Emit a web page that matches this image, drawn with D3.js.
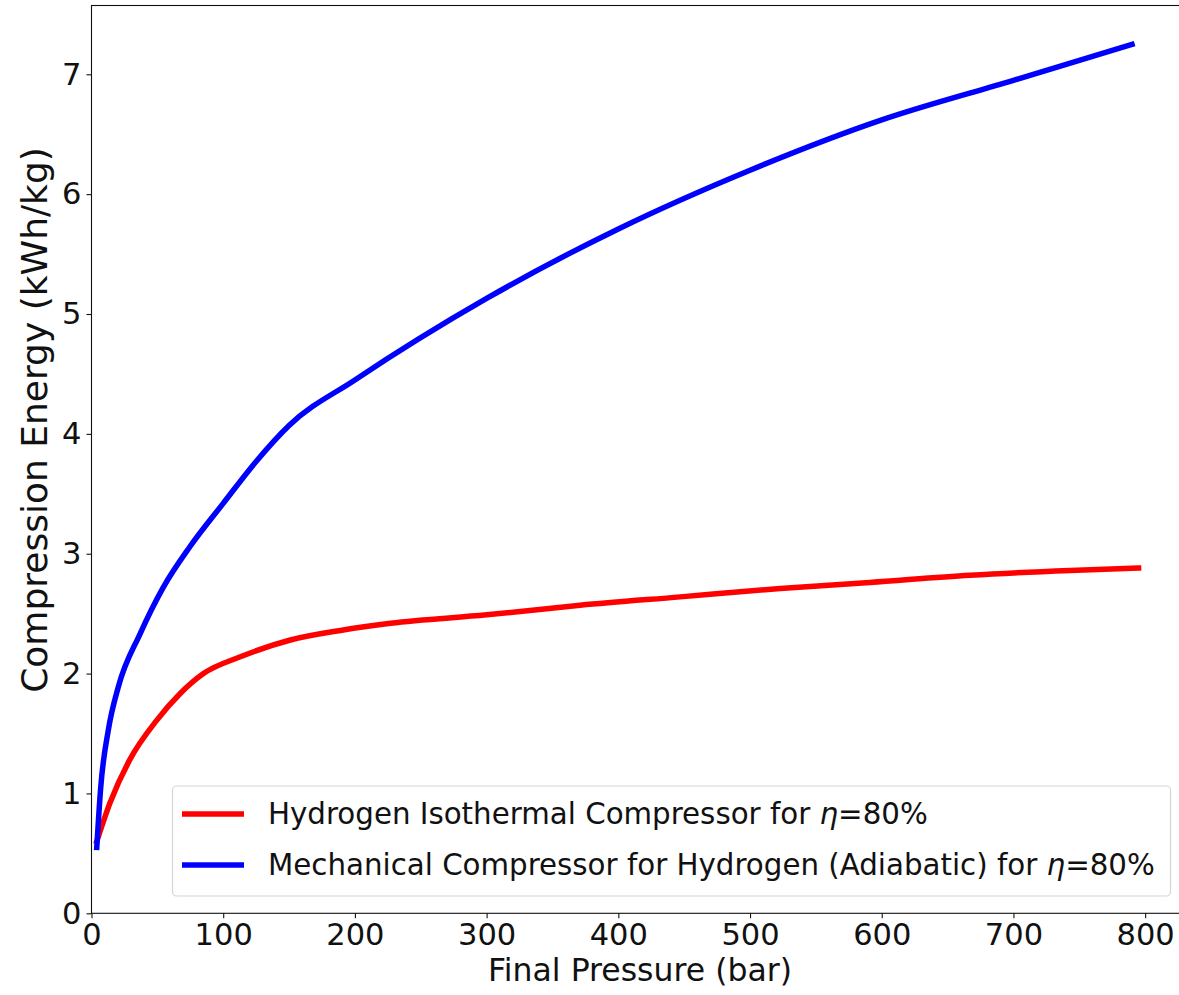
<!DOCTYPE html>
<html lang="en">
    <head>
        <meta charset="utf-8">
        <title>Compression Energy</title>
        <script type="text/javascript" src="https://d3js.org/d3.v7.min.js"></script>
        <style type="text/css">
            body { margin: 0; background: #fff; overflow: hidden; }
            text { font-family: "DejaVu Sans", sans-serif; fill: #111; }
        </style>
    </head>
    <body>
        <script type="text/javascript">

    // data
    var isoPressure = [4, 14, 29, 49.5, 67, 85, 113, 151, 189, 227, 300, 371, 447, 523, 591, 667, 743, 795];
    var isoEnergy   = [0.60, 0.92, 1.28, 1.61, 1.83, 2.00, 2.14, 2.28, 2.36, 2.42, 2.49, 2.57, 2.64, 2.71, 2.76, 2.82, 2.86, 2.88];

    var mechPressure = [4, 7, 12.8, 20.4, 36.8, 54.5, 74.8, 100, 125, 150, 200, 300, 400, 500, 600, 700, 790];
    var mechEnergy   = [0.55, 1.05, 1.53, 1.89, 2.33, 2.72, 3.06, 3.42, 3.77, 4.07, 4.45, 5.13, 5.71, 6.20, 6.62, 6.95, 7.25];

    var xTicks = [0, 100, 200, 300, 400, 500, 600, 700, 800];
    var yTicks = [0, 1, 2, 3, 4, 5, 6, 7];

    var legendLabels = [
        ["Hydrogen Isothermal Compressor for ", "=80%"],
        ["Mechanical Compressor for Hydrogen (Adiabatic) for ", "=80%"]
    ];
    var colors = ["#ff0000", "#0000ff"];

    var w = 1179;
    var h = 995;
    // plot box (right edge falls just outside the picture)
    var padL = 91.5, padR = 1184, padT = 5.5, padB = 913.3;

    var xScale = d3.scaleLinear().domain([0, 829.5]).range([padL, padR]);
    var yScale = d3.scaleLinear().domain([0, 7.574]).range([padB, padT]);

    var svg = d3.select("body")
                .append("svg")
                .attr("width", w)
                .attr("height", h);

    var series = [
        d3.zip(isoPressure, isoEnergy),
        d3.zip(mechPressure, mechEnergy)
    ];

    var line = d3.line()
        .x(function(d) { return xScale(d[0]); })
        .y(function(d) { return yScale(d[1]); })
        .curve(d3.curveMonotoneX);

    svg.selectAll("path.series")
        .data(series)
        .enter()
        .append("path")
        .attr("class", "series")
        .attr("d", line)
        .attr("fill", "none")
        .attr("stroke", function(d, i) { return colors[i]; })
        .attr("stroke-width", 5.5)
        .attr("stroke-linecap", "square")
        .attr("stroke-linejoin", "round");

    // axes
    var xAxis = d3.axisBottom(xScale).tickValues(xTicks).tickSize(5).tickPadding(5);
    var yAxis = d3.axisLeft(yScale).tickValues(yTicks).tickSize(5).tickPadding(5);

    var gx = svg.append("g")
        .attr("transform", "translate(0," + padB + ")")
        .call(xAxis);
    var gy = svg.append("g")
        .attr("transform", "translate(" + padL + ",0)")
        .call(yAxis);

    [gx, gy].forEach(function(g) {
        g.select(".domain").remove();
        g.selectAll(".tick line").attr("stroke", "#111").attr("stroke-width", 1.1);
        g.selectAll(".tick text").style("font-size", "30.5px").attr("fill", "#111");
    });

    // frame
    svg.append("rect")
        .attr("x", padL).attr("y", padT)
        .attr("width", padR - padL).attr("height", padB - padT)
        .attr("fill", "none")
        .attr("stroke", "#111")
        .attr("stroke-width", 1.1);

    // axis labels
    svg.append("text")
        .attr("x", 640)
        .attr("y", 981)
        .attr("text-anchor", "middle")
        .style("font-size", "31.5px")
        .text("Final Pressure (bar)");

    svg.append("text")
        .attr("transform", "translate(47,420) rotate(-90)")
        .attr("text-anchor", "middle")
        .style("font-size", "36px")
        .text("Compression Energy (kWh/kg)");

    // legend
    var legend = svg.append("g");
    legend.append("rect")
        .attr("x", 172.5).attr("y", 786)
        .attr("width", 998).attr("height", 110)
        .attr("rx", 4)
        .attr("fill", "#fff")
        .attr("fill-opacity", 0.8)
        .attr("stroke", "#d6d6d6")
        .attr("stroke-width", 1.2);

    var rows = legend.selectAll("g.row")
        .data(legendLabels)
        .enter()
        .append("g")
        .attr("class", "row")
        .attr("transform", function(d, i) { return "translate(0," + (814 + i * 51) + ")"; });

    rows.append("line")
        .attr("x1", 182).attr("x2", 244)
        .attr("stroke", function(d, i) { return colors[i]; })
        .attr("stroke-width", 5.5);

    var lt = rows.append("text")
        .attr("x", 268)
        .attr("y", 10)
        .style("font-size", "29.3px");
    lt.append("tspan").text(function(d) { return d[0]; });
    lt.append("tspan").style("font-style", "italic").text("η");
    lt.append("tspan").text(function(d) { return d[1]; });

        </script>
    </body>
</html>
